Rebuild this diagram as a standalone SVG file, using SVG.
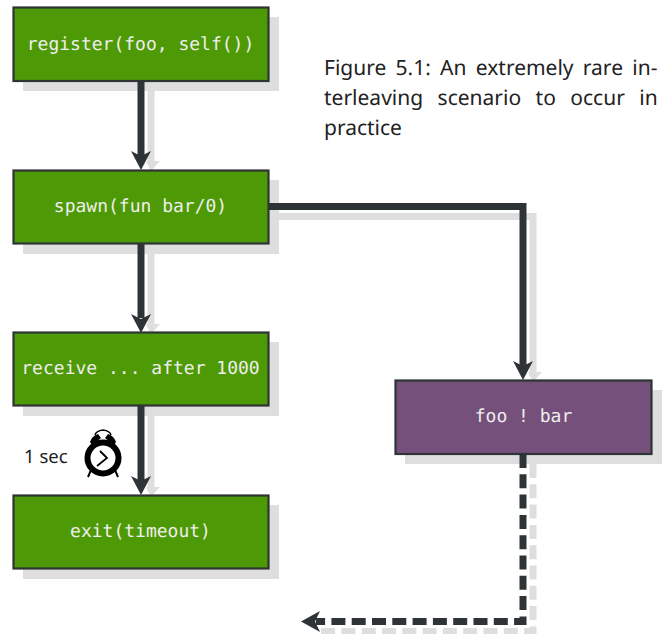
<svg xmlns="http://www.w3.org/2000/svg" width="668" height="634" viewBox="0 0 668 634">
<style>
text{text-rendering:geometricPrecision}
.sh{fill:#dedede;stroke:none}
.sl{fill:none;stroke:#dedede;stroke-width:7}
.ln{fill:none;stroke:#2e3436;stroke-width:7}
.ah{fill:#2e3436;stroke:none}
.sa{fill:#dedede;stroke:none}
.nd{stroke:#2e3436;stroke-width:2.200}
.g{fill:#4e9a06}
.p{fill:#75507b}
.m{font-family:"DejaVu Sans Mono",monospace;font-size:18px;fill:#eeeeec;text-anchor:middle}
.t{font-family:"Noto Sans","Open Sans",sans-serif;font-size:21px;fill:#222}
</style>
<g id="shadows">
<rect class="sh" x="23" y="17" width="256" height="74"/>
<rect class="sh" x="23" y="180" width="256" height="74"/>
<rect class="sh" x="23" y="342" width="256" height="74"/>
<rect class="sh" x="23" y="505" width="256" height="74"/>
<rect class="sh" x="405" y="390" width="257" height="74"/>
<path class="sl" d="M151 91V165"/>
<path class="sa" d="M146 161H160L151 171Z"/>
<path class="sl" d="M151 254V328"/>
<path class="sa" d="M146 324H160L151 334Z"/>
<path class="sl" d="M151 416V491"/>
<path class="sa" d="M146 487H160L151 497Z"/>
<path class="sl" d="M279 216.500H533V376"/>
<path class="sa" d="M528 372H542L533 382Z"/>
<path class="sl" stroke-dasharray="14 6.300" d="M533 464V631.500H320"/>
</g>
<g id="connectors">
<path class="ln" d="M141 81V156"/>
<path class="ah" d="M131 151L141 156L151 151L141 170Z"/>
<path class="ln" d="M141 243V318"/>
<path class="ah" d="M131 314L141 319L151 314L141 333Z"/>
<path class="ln" d="M141 406V481"/>
<path class="ah" d="M131 476L141 481L151 476L141 495Z"/>
<path class="ln" d="M269 206.500H523V366"/>
<path class="ah" d="M513 361L523 366L533 361L523 380Z"/>
<path class="ln" stroke-dasharray="14 6.300" d="M523 454V621.500H316"/>
<path class="ah" d="M320 611L315 621.500L320 632L301 621.500Z"/>
</g>
<g id="n1"><rect class="nd g" x="13.500" y="7.500" width="255" height="73.500"/><text class="m" x="140.500" y="50">register(foo, self())</text></g>
<g id="n2"><rect class="nd g" x="13.500" y="170.500" width="255" height="73"/><text class="m" x="140.500" y="212">spawn(fun bar/0)</text></g>
<g id="n3"><rect class="nd g" x="13.500" y="332.500" width="255" height="73"/><text class="m" x="140.500" y="374">receive ... after 1000</text></g>
<g id="n4"><rect class="nd g" x="13.500" y="495.500" width="255" height="73"/><text class="m" x="140.500" y="537">exit(timeout)</text></g>
<g id="n5"><rect class="nd p" x="395.500" y="380.500" width="256" height="73.500"/><text class="m" x="523.500" y="422">foo ! bar</text></g>
<g id="clock">
<path d="M90 442Q92 436 98 434L101 438L92 445ZM116 442Q114 436 108 434L105 438L114 445Z" fill="#000"/>
<path d="M95 435Q96 431 103 430Q110 431 111 435" fill="none" stroke="#000" stroke-width="1.500"/>
<path d="M91 470L88 477M115 470L118 477" stroke="#000" stroke-width="2" fill="none"/>
<circle cx="103" cy="458" r="15.500" fill="#fff" stroke="#000" stroke-width="6"/>
<path d="M100 451L107 458L97 466" fill="none" stroke="#000" stroke-width="1.800"/>
</g>
<text class="t" x="24" y="463" style="font-size:18.500px">1 sec</text>
<g id="caption">
<text class="t" x="324" y="75" word-spacing="3.800">Figure 5.1: An extremely rare in-</text>
<text class="t" x="324" y="105" word-spacing="9">terleaving scenario to occur in</text>
<text class="t" x="324" y="135">practice</text>
</g>
</svg>
